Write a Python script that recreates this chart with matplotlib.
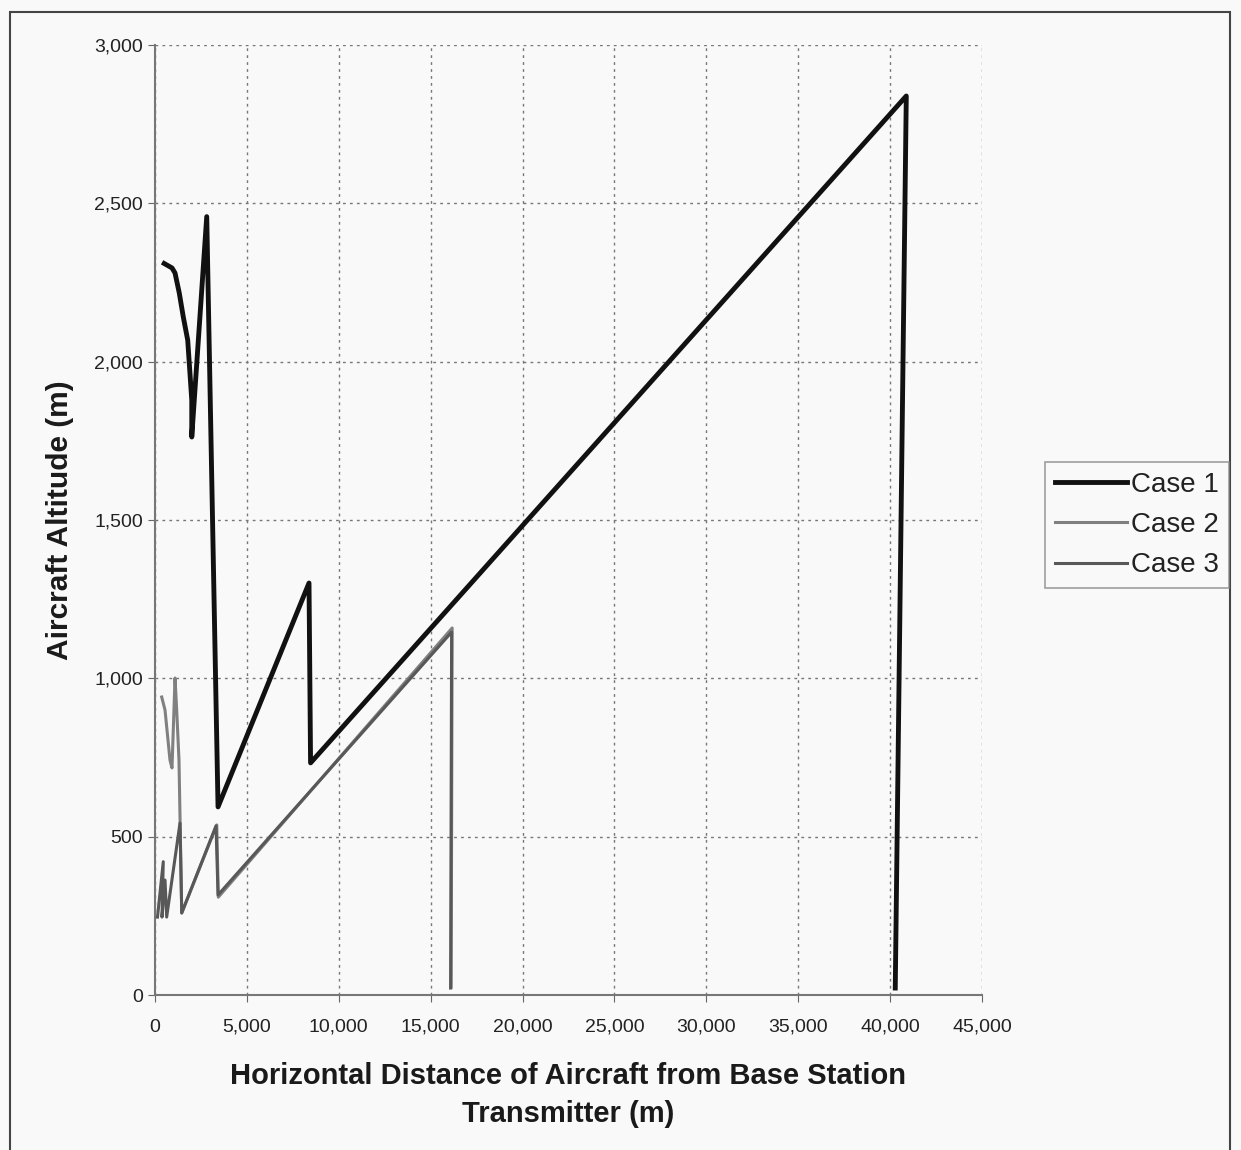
import matplotlib.pyplot as plt
from matplotlib.patches import Rectangle

# distance (m) / altitude (m)
case1_x = [500, 925, 1090, 1320, 1540, 1780, 2000, 2000, 2815, 3430, 8380, 8465, 40880, 40280]
case1_y = [2310, 2296, 2280, 2217, 2141, 2068, 1879, 1762, 2458, 594, 1301, 733, 2839, 22]

case2_x = [365, 545, 815, 925, 1090, 1180, 1305, 1455, 3360, 3445, 16170, 16115]
case2_y = [941, 900, 742, 717, 1001, 900, 742, 259, 537, 309, 1159, 25]

case3_x = [135, 450, 380, 545, 635, 1360, 1455, 3320, 3430, 16140, 16085]
case3_y = [246, 421, 246, 363, 246, 543, 259, 534, 316, 1146, 22]

x_ticks = list(range(0, 45001, 5000))
y_ticks = list(range(0, 3001, 500))

plt.rcParams['font.family'] = ['Liberation Sans', 'DejaVu Sans']

fig = plt.figure(figsize=(12.41, 11.5), dpi=100)
fig.patch.set_facecolor('#f9f9f9')
ax = fig.add_axes([155 / 1241, 1 - 995 / 1150, 827 / 1241, 950 / 1150])
ax.set_facecolor('#f9f9f9')

ax.plot(case1_x, case1_y, color='#111111', lw=3.5, label='Case 1', zorder=4)
ax.plot(case2_x, case2_y, color='#808080', lw=2.2, label='Case 2', zorder=3)
ax.plot(case3_x, case3_y, color='#585858', lw=2.2, label='Case 3', zorder=3)

ax.set_xlim(0, 45000)
ax.set_ylim(0, 3000)
ax.set_xticks(x_ticks)
ax.set_yticks(y_ticks)
ax.set_xticklabels([f'{v:,}' for v in x_ticks])
ax.set_yticklabels([f'{v:,}' for v in y_ticks])
ax.tick_params(axis='both', labelsize=14, direction='out', length=5,
               color='#666666', labelcolor='#222222')
ax.tick_params(axis='x', pad=12)

ax.grid(True, linestyle=(0, (2, 3)), color='#777777', lw=1.0)
for side in ['top', 'right']:
    ax.spines[side].set_visible(False)
for side in ['left', 'bottom']:
    ax.spines[side].set_color('#777777')
    ax.spines[side].set_linewidth(1.5)

ax.set_xlabel('Horizontal Distance of Aircraft from Base Station\nTransmitter (m)',
              fontsize=21, fontweight='bold', color='#1a1a1a', labelpad=19,
              linespacing=1.45)
ax.set_ylabel('Aircraft Altitude (m)', fontsize=21.5, fontweight='bold',
              color='#1a1a1a', labelpad=15)

leg = fig.legend(loc='center', bbox_to_anchor=(1137 / 1241, 1 - 525 / 1150),
                 fontsize=20, frameon=True, fancybox=False, handlelength=2.6,
                 handletextpad=0.15, labelspacing=0.52, borderpad=0.35,
                 borderaxespad=0)
leg.get_frame().set_edgecolor('#888888')
leg.get_frame().set_facecolor('#f9f9f9')
leg.get_frame().set_linewidth(1.2)
for t in leg.get_texts():
    t.set_color('#222222')

# outer chart frame
fig.patches.append(Rectangle((10 / 1241, -0.05), 1220 / 1241, 1 - 12 / 1150 + 0.05,
                             transform=fig.transFigure, fill=False,
                             edgecolor='#444444', lw=1.5))

fig.savefig('out.png', dpi=100, facecolor=fig.get_facecolor())
